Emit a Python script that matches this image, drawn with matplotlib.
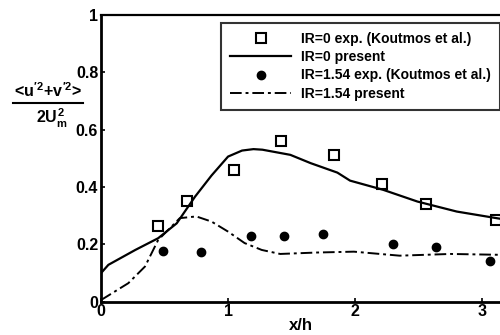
import matplotlib
matplotlib.use("Agg")
import matplotlib.pyplot as plt
from matplotlib.lines import Line2D

plt.rcParams["font.family"] = ["Liberation Sans", "DejaVu Sans"]
plt.rcParams["font.weight"] = "bold"
plt.rcParams["mathtext.fontset"] = "custom"
plt.rcParams["mathtext.rm"] = "Liberation Sans:bold"
plt.rcParams["mathtext.it"] = "Liberation Sans:bold"
plt.rcParams["mathtext.bf"] = "Liberation Sans:bold"

# ---- data ----
exp0_x = [0.45, 0.675, 1.05, 1.42, 1.83, 2.21, 2.56, 3.11]
exp0_y = [0.264, 0.35, 0.46, 0.56, 0.51, 0.41, 0.34, 0.285]

exp154_x = [0.49, 0.79, 1.18, 1.44, 1.75, 2.30, 2.64, 3.06]
exp154_y = [0.178, 0.173, 0.227, 0.227, 0.235, 0.20, 0.19, 0.14]

pres0_x = [0.0, 0.058, 0.27, 0.45, 0.596, 0.74, 0.87, 1.0, 1.11, 1.2,
           1.27, 1.49, 1.65, 1.86, 1.96, 2.22, 2.49, 2.80, 3.14]
pres0_y = [0.099, 0.128, 0.18, 0.221, 0.273, 0.366, 0.44, 0.506, 0.527, 0.532,
           0.53, 0.512, 0.483, 0.45, 0.422, 0.39, 0.349, 0.314, 0.289]

pres154_x = [0.0, 0.215, 0.346, 0.45, 0.556, 0.62, 0.75, 0.87, 1.0, 1.13,
             1.265, 1.41, 1.70, 1.99, 2.35, 2.75, 3.14]
pres154_y = [0.005, 0.064, 0.122, 0.215, 0.262, 0.291, 0.297, 0.279, 0.244, 0.204,
             0.18, 0.166, 0.171, 0.174, 0.160, 0.166, 0.163]

xticks = [0, 1, 2, 3]
yticks = [0, 0.2, 0.4, 0.6, 0.8, 1]
ytick_labels = ["0", "0.2", "0.4", "0.6", "0.8", "1"]
# -------------------------------------

fig = plt.figure(figsize=(5.0, 3.35), dpi=100)
ax = fig.add_axes([0.202, 0.1, 0.798, 0.855])

ax.plot(exp0_x, exp0_y, "s", ms=7, mfc="white", mec="black", mew=1.5,
        label="IR=0 exp. (Koutmos et al.)")
ax.plot(pres0_x, pres0_y, "-", color="black", lw=1.6, label="IR=0 present")
ax.plot(exp154_x, exp154_y, "o", ms=6, color="black",
        label="IR=1.54 exp. (Koutmos et al.)")
ax.plot(pres154_x, pres154_y, color="black", lw=1.4, dashes=(6, 2, 1.5, 2),
        label="IR=1.54 present")

ax.set_xlim(0, 3.14)
ax.set_ylim(0, 1)
ax.set_xticks(xticks)
ax.set_yticks(yticks)
ax.set_yticklabels(ytick_labels)
ax.tick_params(direction="in", length=3, width=1.2, labelsize=11.5, pad=2)

ax.spines["right"].set_visible(False)
ax.spines["left"].set_linewidth(2)
ax.spines["bottom"].set_linewidth(2)
ax.spines["top"].set_linewidth(1.6)

ax.set_xlabel("x/h", fontsize=12, fontweight="bold", labelpad=-1)

leg = ax.legend(loc="upper right", bbox_to_anchor=(1.0, 0.972), fontsize=10,
                frameon=True, fancybox=False, edgecolor="black",
                handlelength=4.4, labelspacing=0.3, borderpad=0.65,
                handletextpad=0.7, borderaxespad=0)
leg.get_frame().set_linewidth(1.5)
for t in leg.get_texts():
    t.set_fontweight("bold")

# y label as a fraction
fig.text(0.097, 0.728, r"<$u^{\prime 2}$+$v^{\prime 2}$>", ha="center",
         va="center", fontsize=11.5)
fig.add_artist(Line2D([0.026, 0.166], [0.692, 0.692], color="black", lw=1.5,
                      transform=fig.transFigure))
fig.text(0.104, 0.648, r"$2U_m^2$", ha="center", va="center", fontsize=11.5)

fig.savefig("out.png", dpi=100)
